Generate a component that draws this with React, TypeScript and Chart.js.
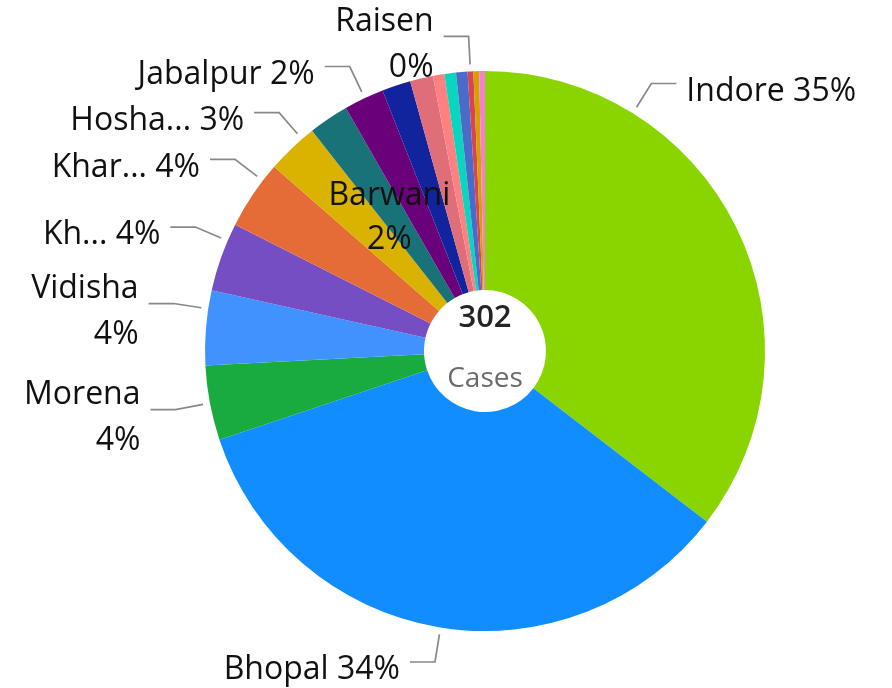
import { useEffect, useRef } from "react";
import { Chart, registerables } from "chart.js";

Chart.register(...registerables);

// ---- data ----
const districts = [
  "Indore", "Bhopal", "Morena", "Vidisha", "Khandwa", "Khargone", "Hoshangabad",
  "Barwani", "Jabalpur", "Ujjain", "Chhindwara", "Gwalior", "Shivpuri", "Betul",
  "Raisen", "Sagar", "Dhar",
];
const cases = [107, 104, 13, 13, 12, 12, 9, 7, 7, 5, 4, 2, 2, 2, 1, 1, 1];
const shownLabels: (string | null)[] = [
  "Indore", "Bhopal", "Morena", "Vidisha", "Kh...", "Khar...", "Hosha...",
  "Barwani", "Jabalpur", null, null, null, null, null, "Raisen", null, null,
];
const centerCaption = "Cases";

// ---- styles / layout ----
const sliceColors = [
  "#8AD400", "#118DFF", "#1AAB40", "#4092FF", "#744EC2", "#E66C37", "#D9B300",
  "#197278", "#6B007B", "#12239E", "#DF6E79", "#FF8080", "#0AD5BE", "#4B6BCB",
  "#D64550", "#D6A100", "#F47FD8",
];
// label placement: "out" one line outside, "out2" two lines outside, "in2" two lines inside
const placement: (string | null)[] = [
  "out", "out", "out2", "out2", "out", "out", "out", "in2", "out",
  null, null, null, null, null, "out2", null, null,
];
// small angular shift of leader anchor (degrees) to match the reference layout
const angleShift = [-31.9, -0.4, 0, 3.9, 3.5, 3.5, 2.7, -1.2, 0.2, 0, 0, 0, 0, 0, 0, 0, 0];

const FONT = '"Open Sans", "Noto Sans", sans-serif';
const LABEL_SIZE = 32;

const labelPlugin = {
  id: "pieLabels",
  afterDatasetsDraw(chart: any) {
    const ctx: CanvasRenderingContext2D = chart.ctx;
    const meta = chart.getDatasetMeta(0);
    const data = chart.data.datasets[0].data as number[];
    const total = data.reduce((a, b) => a + b, 0);
    let cx = 0, cy = 0;
    ctx.save();
    meta.data.forEach((el: any, i: number) => {
      const p = el.getProps(["x", "y", "startAngle", "endAngle", "outerRadius"], true);
      cx = p.x; cy = p.y;
      const mode = placement[i];
      const name = shownLabels[i];
      if (!mode || !name) return;
      const R = p.outerRadius;
      const a = (p.startAngle + p.endAngle) / 2 + (angleShift[i] * Math.PI) / 180;
      const pct = Math.round((data[i] / total) * 100) + "%";
      ctx.font = `${LABEL_SIZE}px ${FONT}`;
      ctx.fillStyle = "#111111";
      ctx.textBaseline = "alphabetic";
      const capOff = 0.357 * LABEL_SIZE;
      if (mode === "in2") {
        const r = R * 0.593;
        const tx = p.x + r * Math.cos(a);
        const ty = p.y + r * Math.sin(a);
        ctx.textAlign = "center";
        ctx.fillText(name, tx, ty - 22 + capOff);
        ctx.fillText(pct, tx, ty + 22 + capOff);
        return;
      }
      const cos = Math.cos(a), sin = Math.sin(a);
      const x0 = p.x + (R + 7) * cos, y0 = p.y + (R + 7) * sin;
      const x1 = p.x + (R + 35) * cos, y1 = p.y + (R + 35) * sin;
      const side = cos >= 0 ? 1 : -1;
      const x2 = x1 + side * 25;
      ctx.strokeStyle = "#888888";
      ctx.lineWidth = 1.7;
      ctx.beginPath();
      ctx.moveTo(x0, y0);
      ctx.lineTo(x1, y1);
      ctx.lineTo(x2, y1);
      ctx.stroke();
      const tx = x2 + side * 10;
      const yc = y1 + 6;
      ctx.textAlign = side > 0 ? "left" : "right";
      if (mode === "out") {
        ctx.fillText(`${name} ${pct}`, tx, yc + capOff);
      } else {
        ctx.fillText(name, tx, yc - 23 + capOff);
        ctx.fillText(pct, tx, yc + 23 + capOff);
      }
    });
    // centre text
    ctx.textAlign = "center";
    ctx.textBaseline = "alphabetic";
    ctx.fillStyle = "#252423";
    ctx.font = `600 31px ${FONT}`;
    ctx.fillText(String(total), cx, cy - 24.5);
    ctx.fillStyle = "#6b6b6b";
    ctx.font = `28px ${FONT}`;
    ctx.fillText(centerCaption, cx, cy + 36);
    ctx.restore();
  },
};

export default function App() {
  const ref = useRef<HTMLCanvasElement>(null);
  useEffect(() => {
    document.body.style.margin = "0";
    if (!ref.current) return;
    const chart = new Chart(ref.current, {
      type: "doughnut",
      data: {
        labels: districts,
        datasets: [
          {
            data: cases,
            backgroundColor: sliceColors,
            borderWidth: 0,
            hoverOffset: 0,
          },
        ],
      },
      options: {
        responsive: false,
        animation: false,
        devicePixelRatio: 1,
        cutout: 61,
        layout: { padding: { left: 200, right: 122, top: 71, bottom: 57 } },
        plugins: {
          legend: { display: false },
          tooltip: { enabled: false },
        },
      },
      plugins: [labelPlugin],
    });
    return () => chart.destroy();
  }, []);
  return (
    <div style={{ width: 892, height: 688, background: "#fff" }}>
      <canvas ref={ref} width={892} height={688} />
    </div>
  );
}
